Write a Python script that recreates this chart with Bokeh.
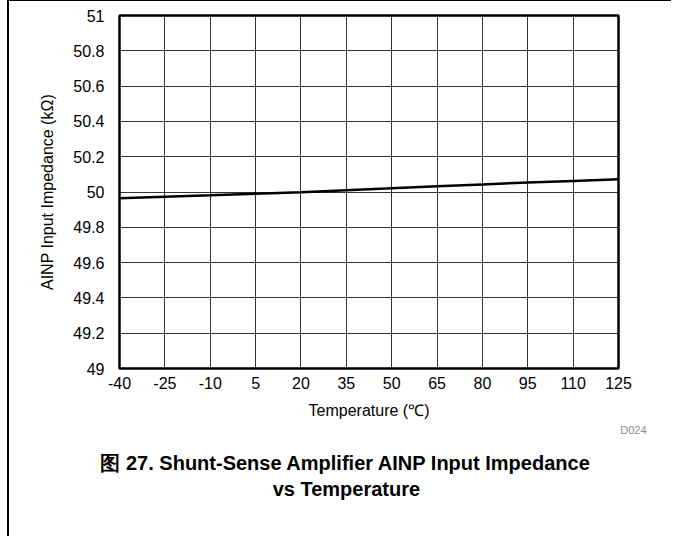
from bokeh.plotting import figure
from bokeh.models import FixedTicker, Range1d, Title
from bokeh.embed import file_html
from bokeh.resources import INLINE

# Data
temperature = [-40, -25, -10, 5, 20, 35, 50, 65, 80, 95, 110, 125]
impedance = [49.965, 49.973, 49.981, 49.990, 49.999, 50.010, 50.021, 50.032, 50.043, 50.054, 50.063, 50.072]
x_ticks = [-40, -25, -10, 5, 20, 35, 50, 65, 80, 95, 110, 125]
y_ticks = [49, 49.2, 49.4, 49.6, 49.8, 50, 50.2, 50.4, 50.6, 50.8, 51]
caption_line1 = "图 27. Shunt-Sense Amplifier AINP Input Impedance"
caption_line2 = "vs Temperature"

FONT = "Liberation Sans"

p = figure(width=664, height=536, output_backend="svg", toolbar_location=None,
           x_range=Range1d(-40, 125), y_range=Range1d(49, 51),
           min_border_left=110, min_border_right=55, min_border_top=14, min_border_bottom=169,
           styles={"margin-left": "7px", "border-top": "1px solid black",
                   "border-left": "2px solid black"})

p.outline_line_color = "black"
p.outline_line_width = 2.5
p.background_fill_color = "white"
p.border_fill_color = "white"

p.line(temperature, impedance, line_color="black", line_width=2.5)

p.xaxis.ticker = FixedTicker(ticks=x_ticks)
p.yaxis.ticker = FixedTicker(ticks=y_ticks)
p.xaxis.major_label_overrides = {t: str(t) for t in x_ticks}
p.yaxis.major_label_overrides = {49: "49", 50: "50", 51: "51"}

for ax in (p.xaxis[0], p.yaxis[0]):
    ax.axis_line_color = None
    ax.major_tick_line_color = None
    ax.minor_tick_line_color = None
    ax.major_label_text_font = FONT
    ax.major_label_text_font_size = "16px"
    ax.major_label_text_color = "black"
    ax.axis_label_text_font = FONT
    ax.axis_label_text_font_size = "16px"
    ax.axis_label_text_font_style = "normal"
    ax.axis_label_text_color = "black"

p.xaxis.axis_label = "Temperature (℃)"
p.yaxis.axis_label = "AINP Input Impedance (kΩ)"
p.xaxis.major_label_standoff = 2
p.xaxis.axis_label_standoff = 10
p.yaxis.major_label_standoff = 9
p.yaxis.axis_label_standoff = 14

p.xgrid.grid_line_color = "black"
p.ygrid.grid_line_color = "black"
p.xgrid.grid_line_alpha = 0.8
p.ygrid.grid_line_alpha = 0.8
p.xgrid.grid_line_width = 1
p.ygrid.grid_line_width = 1

has_padding = "padding" in Title.properties()

p.add_layout(Title(text="D024", align="right", offset=-28, standoff=0,
                   text_font=FONT, text_font_size="11px", text_font_style="normal",
                   text_color="#8c8c8c"), "below")

indent = "\u00a0" * 31
caption_kw = dict(align="center", standoff=30, text_font=FONT, text_font_size="20px",
                  text_font_style="bold", text_line_height=1.2, text_color="black")
if has_padding:
    caption_kw["padding"] = dict(left=0, right=46, top=0, bottom=0)
    caption_text = caption_line1 + "\n" + indent + caption_line2
else:
    pad = "\u00a0" * 8
    caption_text = caption_line1 + pad + "\n" + indent + caption_line2 + pad
p.add_layout(Title(text=caption_text, **caption_kw), "below")

open("out.html", "w").write(file_html(p, INLINE))
